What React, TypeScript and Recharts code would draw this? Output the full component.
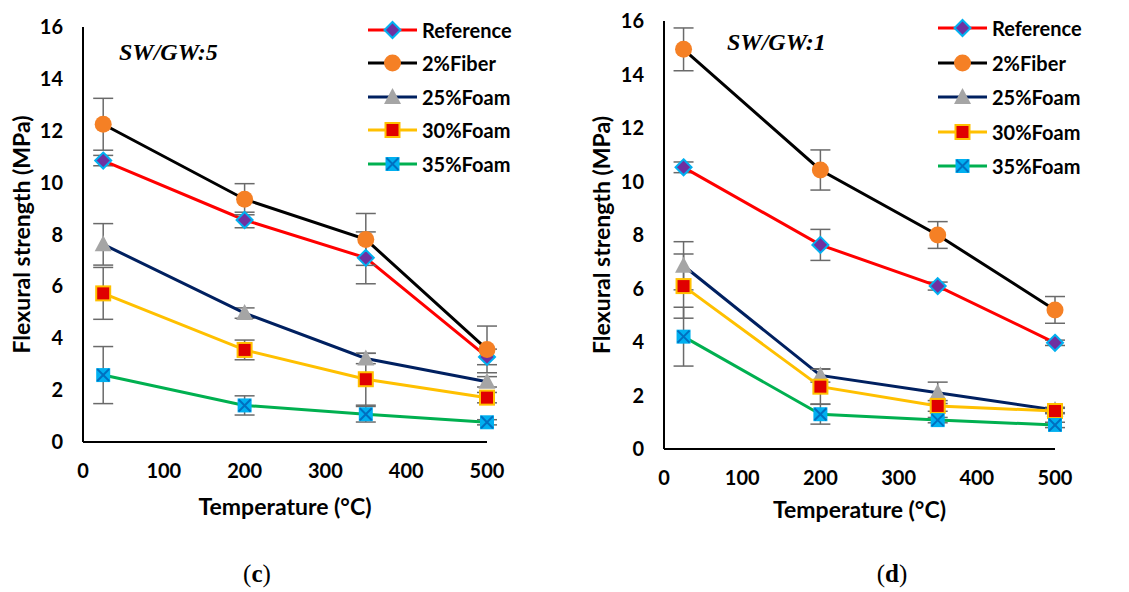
import React from 'react';
import { LineChart, Line, XAxis, YAxis, ErrorBar, Legend } from 'recharts';

// temperatures (°C) and axis ticks
const temperatures = [25, 200, 350, 500];
const xTicks = [0, 100, 200, 300, 400, 500];
const yTicks = [0, 2, 4, 6, 8, 10, 12, 14, 16];
const seriesNames = ['Reference', '2%Fiber', '25%Foam', '30%Foam', '35%Foam'];

// SW/GW:5 — mean flexural strength (MPa)
const ref5 = [10.85, 8.56, 7.1, 3.28];
const fiber5 = [12.25, 9.36, 7.81, 3.57];
const foam25_5 = [7.62, 4.97, 3.22, 2.32];
const foam30_5 = [5.73, 3.55, 2.42, 1.71];
const foam35_5 = [2.58, 1.41, 1.07, 0.76];
// SW/GW:5 — standard deviation
const ref5Err = [0.2, 0.3, 1.0, 0.3];
const fiber5Err = [1.0, 0.6, 1.0, 0.9];
const foam25_5Err = [0.8, 0.2, 0.2, 0.2];
const foam30_5Err = [1.0, 0.38, 1.0, 0.2];
const foam35_5Err = [1.1, 0.37, 0.3, 0.1];

// SW/GW:1 — mean flexural strength (MPa)
const ref1 = [10.53, 7.63, 6.09, 3.97];
const fiber1 = [14.94, 10.43, 8.0, 5.2];
const foam25_1 = [6.85, 2.75, 2.1, 1.46];
const foam30_1 = [6.09, 2.33, 1.61, 1.42];
const foam35_1 = [4.2, 1.3, 1.08, 0.9];
// SW/GW:1 — standard deviation
const ref1Err = [0.2, 0.58, 0.15, 0.1];
const fiber1Err = [0.8, 0.75, 0.5, 0.5];
const foam25_1Err = [0.9, 0.25, 0.4, 0.1];
const foam30_1Err = [1.2, 0.65, 0.2, 0.1];
const foam35_1Err = [1.1, 0.37, 0.1, 0.1];

const lineColors = ['#ff0000', '#000000', '#002060', '#ffc000', '#00b050'];
const markerShapes = ['diamond', 'circle', 'triangle', 'square', 'cross'];
const keys = ['ref', 'fiber', 'foam25', 'foam30', 'foam35'];

const FONT = 'Lato, "Open Sans", sans-serif';
const ERR_COLOR = '#6a6a6a';

function buildRows(values: number[][], errors: number[][]) {
  return temperatures.map((t, i) => {
    const row: Record<string, number> = { t };
    keys.forEach((k, s) => {
      row[k] = values[s][i];
      row[k + 'Err'] = errors[s][i];
    });
    return row;
  });
}

function Marker({ shape, cx, cy }: { shape: string; cx: number; cy: number }) {
  switch (shape) {
    case 'diamond':
      return (
        <polygon
          points={`${cx},${cy - 8} ${cx + 8},${cy} ${cx},${cy + 8} ${cx - 8},${cy}`}
          fill="#7030a0"
          stroke="#00b0f0"
          strokeWidth={2}
        />
      );
    case 'circle':
      return <circle cx={cx} cy={cy} r={8.5} fill="#f58025" />;
    case 'triangle':
      return (
        <polygon
          points={`${cx},${cy - 9} ${cx + 8.5},${cy + 7} ${cx - 8.5},${cy + 7}`}
          fill="#a5a5a5"
        />
      );
    case 'square':
      return (
        <rect x={cx - 7} y={cy - 7} width={14} height={14} fill="#e00000" stroke="#ffc000" strokeWidth={2} />
      );
    default:
      return (
        <g>
          <rect x={cx - 7} y={cy - 7} width={14} height={14} fill="#00b0f0" />
          <line x1={cx - 6} y1={cy - 6} x2={cx + 6} y2={cy + 6} stroke="#0070c0" strokeWidth={2} />
          <line x1={cx + 6} y1={cy - 6} x2={cx - 6} y2={cy + 6} stroke="#0070c0" strokeWidth={2} />
        </g>
      );
  }
}

function LegendBox({ rowHeight }: { rowHeight: number }) {
  return (
    <div style={{ fontFamily: FONT, fontWeight: 700, fontSize: 20, color: '#000' }}>
      {seriesNames.map((name, i) => (
        <div key={name} style={{ display: 'flex', alignItems: 'center', height: rowHeight, whiteSpace: 'nowrap' }}>
          <svg width={49} height={20} style={{ display: 'block' }}>
            <line x1={0} y1={10} x2={49} y2={10} stroke={lineColors[i]} strokeWidth={3} />
            <Marker shape={markerShapes[i]} cx={24.5} cy={10} />
          </svg>
          <span style={{ marginLeft: 5 }}>{name}</span>
        </div>
      ))}
    </div>
  );
}

type PanelProps = {
  rows: Record<string, number>[];
  width: number;
  plotLeft: number;
  plotRight: number;
  plotTop: number;
  plotBottom: number;
  xAxisHeight: number;
  yTitleX: number;
  legendTop: number;
  legendLeft: number;
  legendRow: number;
};

function Panel(p: PanelProps) {
  const tickStyle = { fill: '#000', fontSize: 20, fontWeight: 700, fontFamily: FONT };
  return (
    <LineChart
      width={p.width}
      height={592}
      data={p.rows}
      margin={{ top: p.plotTop, right: p.width - p.plotRight, bottom: 592 - p.plotBottom - p.xAxisHeight, left: 0 }}
    >
      <XAxis
        dataKey="t"
        type="number"
        domain={[0, 500]}
        ticks={xTicks}
        height={p.xAxisHeight}
        axisLine={{ stroke: '#000', strokeWidth: 2 }}
        tickLine={false}
        tickMargin={16}
        tick={tickStyle}
        label={{
          value: 'Temperature (°C)',
          position: 'insideBottom',
          offset: 0,
          fill: '#000',
          fontSize: 23,
          fontWeight: 700,
          fontFamily: FONT,
        }}
      />
      <YAxis
        type="number"
        domain={[0, 16]}
        ticks={yTicks}
        width={p.plotLeft}
        axisLine={{ stroke: '#000', strokeWidth: 2 }}
        tickLine={false}
        tickMargin={14}
        tick={tickStyle}
        label={{
          value: 'Flexural strength (MPa)',
          angle: -90,
          position: 'insideLeft',
          offset: p.yTitleX,
          fill: '#000',
          fontSize: 23,
          fontWeight: 700,
          fontFamily: FONT,
          style: { textAnchor: 'middle' },
        }}
      />
      <Legend
        layout="vertical"
        align="center"
        verticalAlign="middle"
        wrapperStyle={{ top: p.legendTop, left: p.legendLeft, width: 220 }}
        content={() => <LegendBox rowHeight={p.legendRow} />}
      />
      {keys.map((k, i) => (
        <Line
          key={k}
          dataKey={k}
          name={seriesNames[i]}
          type="linear"
          stroke={lineColors[i]}
          strokeWidth={3}
          isAnimationActive={false}
          dot={(d: any) => <Marker key={`${k}-${d.index}`} shape={markerShapes[i]} cx={d.cx} cy={d.cy} />}
          activeDot={false}
        >
          <ErrorBar dataKey={k + 'Err'} width={10} stroke={ERR_COLOR} strokeWidth={1.5} direction="y" />
        </Line>
      ))}
    </LineChart>
  );
}

const rows5 = buildRows(
  [ref5, fiber5, foam25_5, foam30_5, foam35_5],
  [ref5Err, fiber5Err, foam25_5Err, foam30_5Err, foam35_5Err]
);
const rows1 = buildRows(
  [ref1, fiber1, foam25_1, foam30_1, foam35_1],
  [ref1Err, fiber1Err, foam25_1Err, foam30_1Err, foam35_1Err]
);

const panelTag: React.CSSProperties = {
  position: 'absolute',
  fontFamily: '"Liberation Serif", "Times New Roman", serif',
  fontWeight: 700,
  fontStyle: 'italic',
  fontSize: 24,
  lineHeight: 1,
  whiteSpace: 'nowrap',
};

const caption: React.CSSProperties = {
  position: 'absolute',
  width: 60,
  textAlign: 'center',
  fontFamily: '"Liberation Serif", "Times New Roman", serif',
  fontSize: 25,
  lineHeight: 1,
};

export default function App() {
  return (
    <div style={{ position: 'absolute', left: 0, top: 0, width: 1129, height: 592, overflow: 'hidden', background: '#fff' }}>
      <div style={{ position: 'absolute', left: 0, top: 0 }}>
        <Panel
          rows={rows5}
          width={560}
          plotLeft={83}
          plotRight={487}
          plotTop={27}
          plotBottom={442}
          xAxisHeight={73}
          yTitleX={22}
          legendTop={13}
          legendLeft={368}
          legendRow={33.5}
        />
      </div>
      <div style={{ position: 'absolute', left: 560, top: 0 }}>
        <Panel
          rows={rows1}
          width={569}
          plotLeft={104}
          plotRight={495}
          plotTop={21}
          plotBottom={449}
          xAxisHeight={69}
          yTitleX={42}
          legendTop={11}
          legendLeft={378}
          legendRow={34.5}
        />
      </div>
      <div style={{ ...panelTag, left: 119, top: 40 }}>SW/GW:5</div>
      <div style={{ ...panelTag, left: 727, top: 30 }}>SW/GW:1</div>
      <div style={{ ...caption, left: 227, top: 561 }}>
        (<b>c</b>)
      </div>
      <div style={{ ...caption, left: 862, top: 561 }}>
        (<b>d</b>)
      </div>
    </div>
  );
}
